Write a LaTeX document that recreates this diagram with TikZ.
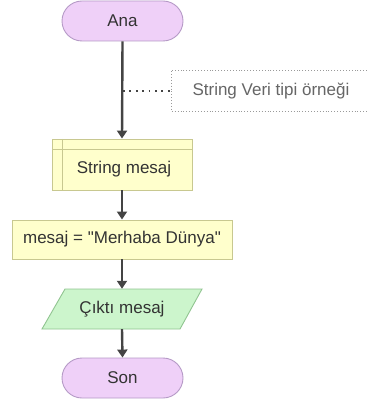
\documentclass[tikz,border=0pt]{standalone}
\usepackage{fontspec}
\setmainfont{Liberation Sans}[Ligatures=TeXOff]
\usetikzlibrary{arrows.meta}
\definecolor{termfill}{HTML}{EFD0F8}
\definecolor{termdraw}{HTML}{B59AC6}
\definecolor{procfill}{HTML}{FFFFCC}
\definecolor{procdraw}{HTML}{C8C890}
\definecolor{iofill}{HTML}{CCF5CC}
\definecolor{iodraw}{HTML}{90C490}
\definecolor{flow}{HTML}{444444}
\definecolor{txt}{HTML}{333333}
\definecolor{notetxt}{HTML}{666666}
\definecolor{notedraw}{HTML}{9A9A9A}
\begin{document}
\begin{tikzpicture}[x=1pt,y=-1pt,
  every node/.style={font=\fontsize{17}{20}\selectfont, text=txt},
  term/.style={draw=termdraw, fill=termfill, rounded corners=20pt, minimum width=121pt, minimum height=40pt, inner sep=0pt, line width=0.9pt},
  proc/.style={draw=procdraw, fill=procfill, inner sep=0pt, line width=0.9pt},
  flowarrow/.style={draw=flow, line width=2.4pt, -{Triangle[length=8pt,width=10pt]}},
  notebox/.style={draw=notedraw, dotted, line width=0.9pt},
  noteline/.style={draw=flow, line width=1.8pt, dash pattern=on 1.8pt off 4.6pt}
]
\useasboundingbox (0,0) rectangle (366,406);
% terminals
\node[term] (ana) at (122.5,21) {Ana};
\node[term] (son) at (122.5,378) {Son};
% declaration box
\node[proc, minimum width=140pt, minimum height=51pt] (decl) at (122,164.5) {};
\draw[procdraw, line width=0.9pt] (62,139) -- (62,190);
\draw[procdraw, line width=0.9pt] (52,149) -- (192,149);
\node at (124,169) {String mesaj};
% assignment
\node[proc, minimum width=220pt, minimum height=39pt] (assign) at (122,239.5) {mesaj = "Merhaba Dünya"};
% output parallelogram
\filldraw[draw=iodraw, fill=iofill, line width=0.9pt] (65,289) -- (202,289) -- (180,329) -- (42,329) -- cycle;
\node[minimum height=40pt, minimum width=100pt, inner sep=0pt] (out) at (122,309) {Çıktı mesaj};
% note
\coordinate (tap) at (123,91);
\fill[white] (171,70) rectangle (366,111);
\draw[notebox] (367,70) -- (171,70) -- (171,111) -- (367,111);
\node[text=notetxt, anchor=west] (note) at (189,90.5) {String Veri tipi örneği};
\coordinate (notew) at (171,91);
% connectors
\draw[flowarrow] (ana.south) -- (decl.north);
\draw[noteline] (tap) -- (notew);
\draw[flowarrow] (decl.south) -- (assign.north);
\draw[flowarrow] (assign.south) -- (out.north);
\draw[flowarrow] (out.south) -- (son.north);
\end{tikzpicture}
\end{document}
